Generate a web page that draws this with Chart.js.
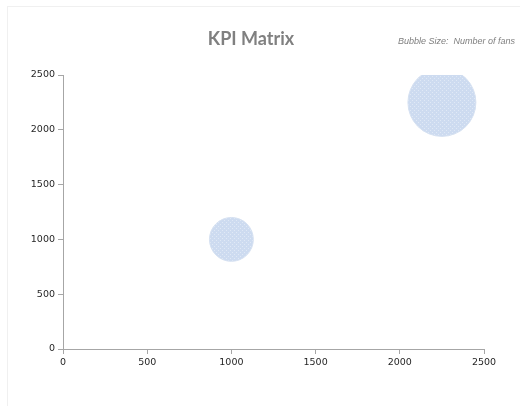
<!DOCTYPE html>
<html>
<head>
<meta charset="utf-8">
<script src="https://cdn.jsdelivr.net/npm/chart.js@4/dist/chart.umd.min.js"></script>
<style>
  html, body { margin: 0; padding: 0; background: #fff; }
  .wrap { position: relative; width: 520px; height: 406px; }
  .frame { position: absolute; left: 7px; top: 6px; width: 520px; height: 420px; border: 1px solid #f0f0f0; box-sizing: border-box; }
  canvas { position: absolute; left: 0; top: 0; }
</style>
</head>
<body>
<div class="wrap">
  <div class="frame"></div>
  <canvas id="kpi" width="520" height="406"></canvas>
</div>
<script>
const kpiX = [1000, 2250];
const kpiY = [1000, 2250];
const fans = [1000, 2400];
const tickValues = [0, 500, 1000, 1500, 2000, 2500];

// diagonal hatch fill like the office bubble
function bubbleFill() {
  let c = document.createElement("canvas");
  c.width = 4; c.height = 4;
  let g = c.getContext("2d");
  g.fillStyle = "#cddbf0";
  g.fillRect(0, 0, 4, 4);
  g.fillStyle = "#e0e9f6";
  g.fillRect(0, 0, 1, 1);
  g.fillRect(2, 2, 1, 1);
  return g.createPattern(c, "repeat");
}

const maxR = 34;
const points = kpiX.map((x, i) => ({
  x: x,
  y: kpiY[i],
  r: Math.sqrt(fans[i] / Math.max(...fans)) * maxR,
}));

const texts = {
  id: "texts",
  afterDraw(chart) {
    let c = chart.ctx;
    c.save();
    c.fillStyle = "#808080";
    c.font = "bold 18px Lato, sans-serif";
    c.textAlign = "center";
    c.textBaseline = "middle";
    c.fillText("KPI Matrix", 251, 39);
    c.fillStyle = "#7f7f7f";
    c.font = "italic 9px 'Liberation Sans', sans-serif";
    c.textAlign = "right";
    c.fillText("Bubble Size:  Number of fans", 515, 41);
    c.restore();
  },
};

const axisTicks = {
  color: "#262626",
  font: { family: "'DejaVu Sans', sans-serif", size: 9.5 },
  padding: 3,
  maxRotation: 0,
  callback: (v) => String(v),
};

new Chart(document.getElementById("kpi").getContext("2d"), {
  type: "bubble",
  data: {
    datasets: [
      {
        label: "Fans",
        data: points,
        backgroundColor: bubbleFill(),
        borderColor: "#d6e1f1",
        borderWidth: 1,
        hoverRadius: 0,
      },
    ],
  },
  options: {
    responsive: false,
    animation: false,
    layout: { padding: { left: 0, right: 36, top: 75, bottom: 27 } },
    plugins: { legend: { display: false }, tooltip: { enabled: false } },
    scales: {
      x: {
        type: "linear",
        min: 0,
        max: 2500,
        afterBuildTicks: (s) => { s.ticks = tickValues.map((v) => ({ value: v })); },
        afterFit: (s) => { s.height = 30; },
        grid: { display: true, drawOnChartArea: false, tickLength: 5, color: "#a6a6a6" },
        border: { color: "#a6a6a6", width: 1 },
        ticks: axisTicks,
      },
      y: {
        type: "linear",
        min: 0,
        max: 2500,
        afterBuildTicks: (s) => { s.ticks = tickValues.map((v) => ({ value: v })); },
        afterFit: (s) => { s.width = 63; },
        grid: { display: true, drawOnChartArea: false, tickLength: 5, color: "#a6a6a6" },
        border: { color: "#a6a6a6", width: 1 },
        ticks: axisTicks,
      },
    },
  },
  plugins: [texts],
});
</script>
</body>
</html>
